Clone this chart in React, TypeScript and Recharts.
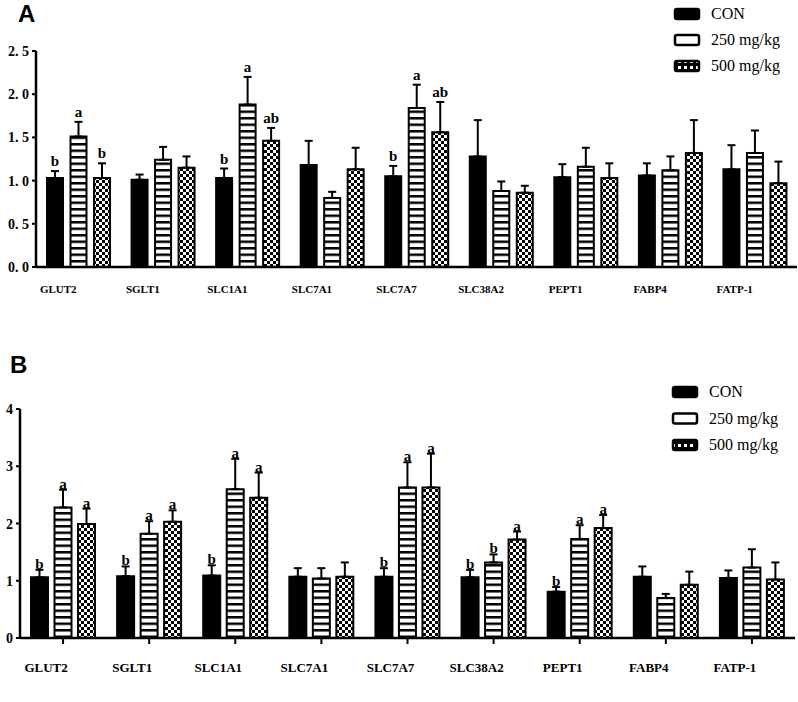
import React from 'react';
import { BarChart, Bar, XAxis, YAxis, ErrorBar, LabelList } from 'recharts';

const genes = ['GLUT2', 'SGLT1', 'SLC1A1', 'SLC7A1', 'SLC7A7', 'SLC38A2', 'PEPT1', 'FABP4', 'FATP-1'];
const seriesNames = ['CON', '250 mg/kg', '500 mg/kg'];

// Panel A
const conA = [1.03, 1.01, 1.03, 1.18, 1.05, 1.28, 1.04, 1.06, 1.13];
const conAErr = [0.08, 0.06, 0.11, 0.28, 0.12, 0.42, 0.15, 0.14, 0.28];
const d250A = [1.51, 1.24, 1.88, 0.8, 1.84, 0.88, 1.16, 1.12, 1.32];
const d250AErr = [0.17, 0.15, 0.32, 0.07, 0.27, 0.11, 0.22, 0.16, 0.26];
const d500A = [1.03, 1.15, 1.46, 1.13, 1.56, 0.86, 1.03, 1.32, 0.97];
const d500AErr = [0.17, 0.13, 0.15, 0.25, 0.35, 0.08, 0.17, 0.38, 0.25];
const conALetters = ['b', '', 'b', '', 'b', '', '', '', ''];
const d250ALetters = ['a', '', 'a', '', 'a', '', '', '', ''];
const d500ALetters = ['b', '', 'ab', '', 'ab', '', '', '', ''];
const yTicksA = [0, 0.5, 1, 1.5, 2, 2.5];

// Panel B
const conB = [1.06, 1.08, 1.09, 1.07, 1.07, 1.06, 0.81, 1.07, 1.05];
const conBErr = [0.13, 0.17, 0.18, 0.15, 0.15, 0.13, 0.08, 0.18, 0.13];
const d250B = [2.28, 1.82, 2.6, 1.04, 2.63, 1.32, 1.73, 0.7, 1.23];
const d250BErr = [0.31, 0.22, 0.53, 0.18, 0.44, 0.14, 0.24, 0.07, 0.32];
const d500B = [1.99, 2.03, 2.45, 1.07, 2.63, 1.72, 1.92, 0.93, 1.02];
const d500BErr = [0.27, 0.2, 0.44, 0.25, 0.59, 0.14, 0.23, 0.23, 0.3];
const conBLetters = ['b', 'b', 'b', '', 'b', 'b', 'b', '', ''];
const d250BLetters = ['a', 'a', 'a', '', 'a', 'b', 'a', '', ''];
const d500BLetters = ['a', 'a', 'a', '', 'a', 'a', 'a', '', ''];
const yTicksB = [0, 1, 2, 3, 4];

function buildRows(c, ce, cl, m, me, ml, h, he, hl) {
  return genes.map((g, i) => ({
    gene: g,
    con: c[i], conErr: [0, ce[i]], conL: cl[i],
    d250: m[i], d250Err: [0, me[i]], d250L: ml[i],
    d500: h[i], d500Err: [0, he[i]], d500L: hl[i],
  }));
}

const rowsA = buildRows(conA, conAErr, conALetters, d250A, d250AErr, d250ALetters, d500A, d500AErr, d500ALetters);
const rowsB = buildRows(conB, conBErr, conBLetters, d250B, d250BErr, d250BLetters, d500B, d500BErr, d500BLetters);

const SERIF = 'Liberation Serif';

function makeLetter(rows, key, gap, fontSize) {
  return (props) => {
    const vb = props.viewBox && props.viewBox.width !== undefined ? props.viewBox : props;
    const { x, y, width, height } = vb;
    const idx = props.index;
    const row = rows[idx];
    if (!row) return null;
    const letter = row[key + 'L'];
    if (!letter) return null;
    const val = row[key];
    const err = row[key + 'Err'][1];
    const ppu = height / val;
    const top = y - err * ppu;
    return (
      <text x={x + width / 2} y={top - gap} textAnchor="middle" fontFamily={SERIF} fontWeight="bold" fontSize={fontSize} fill="#000">
        {letter}
      </text>
    );
  };
}

// category labels, placed over the area the slanted labels take in the original
function makeXTick(fontSize, dx, dy) {
  return (props) => {
    const { x, y, payload } = props;
    return (
      <text x={x + dx} y={y + dy} textAnchor="middle" fontFamily={SERIF} fontWeight="bold" fontSize={fontSize} fill="#000">
        {payload.value}
      </text>
    );
  };
}

function makeYTick(split) {
  return (props) => {
    const { x, y, payload } = props;
    const v = payload.value;
    if (split) {
      const s = v.toFixed(1);
      return (
        <text x={x} y={y} dy={5} textAnchor="end" fontFamily={SERIF} fontWeight="bold" fontSize={14} fill="#000">
          <tspan>{s.slice(0, 2)}</tspan>
          <tspan dx={3.5}>{s.slice(2)}</tspan>
        </text>
      );
    }
    return (
      <text x={x} y={y} dy={5} textAnchor="end" fontFamily={SERIF} fontWeight="bold" fontSize={14} fill="#000">
        {String(v)}
      </text>
    );
  };
}

function Patterns({ id }) {
  return (
    <defs>
      <pattern id={`stripes-${id}`} patternUnits="userSpaceOnUse" width={8} height={6.5}>
        <rect x={0} y={0} width={8} height={6.5} fill="#fff" />
        <rect x={0} y={0} width={8} height={2.5} fill="#000" />
      </pattern>
      <pattern id={`checker-${id}`} patternUnits="userSpaceOnUse" width={6} height={6}>
        <rect x={0} y={0} width={6} height={6} fill="#fff" />
        <rect x={0} y={0} width={3} height={3} fill="#000" />
        <rect x={3} y={3} width={3} height={3} fill="#000" />
      </pattern>
    </defs>
  );
}

function Panel({ id, rows, height, margin, yWidth, xHeight, domain, ticks, barSize, barGap, xTickLine, xTick, letterGap, letterFont, ySplit }) {
  return (
    <BarChart width={798} height={height} data={rows} margin={margin} barSize={barSize} barGap={barGap}>
      <Patterns id={id} />
      <XAxis
        dataKey="gene"
        height={xHeight}
        interval={0}
        axisLine={{ stroke: '#000', strokeWidth: 2.5 }}
        tickLine={xTickLine ? { stroke: '#000', strokeWidth: 2 } : false}
        tickSize={6}
        tick={xTick}
      />
      <YAxis
        width={yWidth}
        domain={domain}
        ticks={ticks}
        interval={0}
        allowDataOverflow
        axisLine={{ stroke: '#000', strokeWidth: 2.5 }}
        tickLine={{ stroke: '#000', strokeWidth: 2 }}
        tickSize={4}
        tickMargin={3}
        tick={makeYTick(ySplit)}
      />
      <Bar dataKey="con" name={seriesNames[0]} fill="#000" stroke="#000" strokeWidth={2} isAnimationActive={false}>
        <ErrorBar dataKey="conErr" direction="y" width={4} stroke="#000" strokeWidth={2} />
        <LabelList dataKey="conL" content={makeLetter(rows, 'con', letterGap, letterFont)} />
      </Bar>
      <Bar dataKey="d250" name={seriesNames[1]} fill={`url(#stripes-${id})`} stroke="#000" strokeWidth={2} isAnimationActive={false}>
        <ErrorBar dataKey="d250Err" direction="y" width={4} stroke="#000" strokeWidth={2} />
        <LabelList dataKey="d250L" content={makeLetter(rows, 'd250', letterGap, letterFont)} />
      </Bar>
      <Bar dataKey="d500" name={seriesNames[2]} fill={`url(#checker-${id})`} stroke="#000" strokeWidth={2} isAnimationActive={false}>
        <ErrorBar dataKey="d500Err" direction="y" width={4} stroke="#000" strokeWidth={2} />
        <LabelList dataKey="d500L" content={makeLetter(rows, 'd500', letterGap, letterFont)} />
      </Bar>
    </BarChart>
  );
}

function LegendBlock({ x, y, step }) {
  const fills = ['#000', '#fff', 'url(#checker-leg)'];
  return (
    <g>
      {seriesNames.map((n, i) => (
        <g key={n}>
          <rect x={x} y={y + i * step} width={24} height={10} rx={2} fill={fills[i]} stroke="#000" strokeWidth={2.5} />
          <text x={x + 36} y={y + i * step + 10} fontFamily={SERIF} fontSize={16} fill="#000">{n}</text>
        </g>
      ))}
    </g>
  );
}

export default function App() {
  return (
    <div style={{ position: 'absolute', left: 0, top: 0, width: 798, height: 702, background: '#fff' }}>
      <div style={{ position: 'absolute', left: 0, top: 0 }}>
        <Panel
          id="a" rows={rowsA} height={330}
          margin={{ top: 51, right: 1, left: 0, bottom: 0 }}
          yWidth={36} xHeight={63} domain={[0, 2.5]} ticks={yTicksA}
          barSize={16} barGap={7.5} xTickLine={false}
          xTick={makeXTick(11, -20, 18)}
          letterGap={5} letterFont={15} ySplit={true}
        />
      </div>
      <div style={{ position: 'absolute', left: 0, top: 330 }}>
        <Panel
          id="b" rows={rowsB} height={372}
          margin={{ top: 79, right: 3, left: 0, bottom: 0 }}
          yWidth={20} xHeight={64} domain={[0, 4]} ticks={yTicksB}
          barSize={17} barGap={6.5} xTickLine={true}
          xTick={makeXTick(13, -17, 26)}
          letterGap={1} letterFont={15} ySplit={false}
        />
      </div>
      <svg width={798} height={702} style={{ position: 'absolute', left: 0, top: 0, pointerEvents: 'none' }}>
        <defs>
          <pattern id="checker-leg" patternUnits="userSpaceOnUse" width={6} height={6}>
            <rect x={0} y={0} width={6} height={6} fill="#000" />
            <rect x={0} y={0} width={3} height={3} fill="#fff" />
          </pattern>
        </defs>
        <text x={18} y={22} fontFamily="Liberation Sans" fontWeight="bold" fontSize={24} fill="#000">A</text>
        <text x={10} y={373} fontFamily="Liberation Sans" fontWeight="bold" fontSize={24} fill="#000">B</text>
        <LegendBlock x={675} y={9} step={26} />
        <LegendBlock x={673} y={387} step={26.5} />
      </svg>
    </div>
  );
}
